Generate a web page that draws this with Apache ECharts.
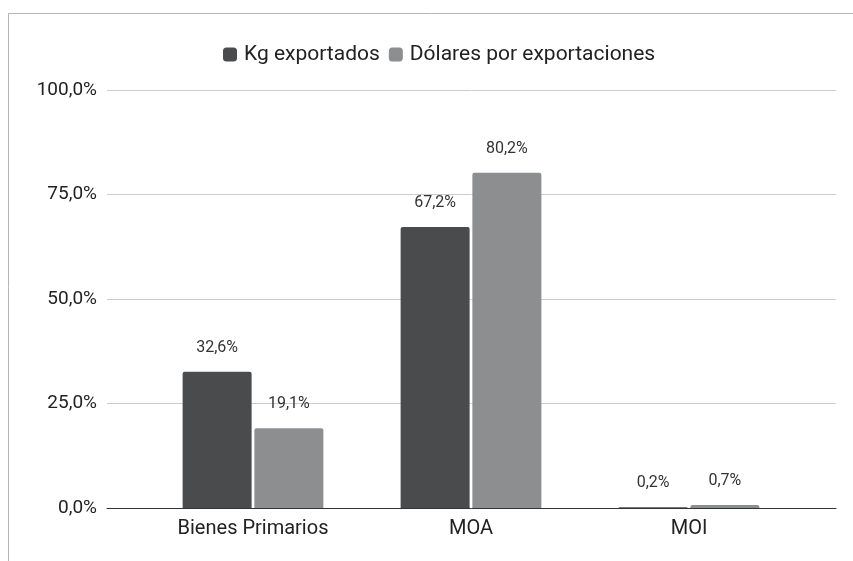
<!DOCTYPE html>
<html>
<head>
<meta charset="utf-8">
<script src="https://cdn.jsdelivr.net/npm/echarts@6/dist/echarts.min.js"></script>
<style>
  html, body { margin: 0; padding: 0; background: #fff; }
  #chart { width: 853px; height: 561px; }
</style>
</head>
<body>
<div id="chart"></div>
<script>
// datos
const categories = ['Bienes Primarios', 'MOA', 'MOI']
const seriesNames = ['Kg exportados', 'Dólares por exportaciones']
const kgValues = [32.6, 67.2, 0.2]
const usdValues = [19.1, 80.2, 0.7]
const yTicks = [0, 25, 50, 75, 100]

const fmt = v => v.toFixed(1).replace('.', ',') + '%'
const FONT = 'Roboto'

const chart = echarts.init(document.getElementById('chart'))

const label = {
  show: true,
  position: 'top',
  distance: 16,
  fontFamily: FONT,
  fontSize: 16,
  color: '#333',
  formatter: p => fmt(p.value)
}

chart.setOption({
  animation: false,
  textStyle: { fontFamily: FONT },
  legend: {
    top: 39,
    left: 218,
    itemWidth: 14,
    itemHeight: 14,
    itemGap: 9,
    icon: 'roundRect',
    textStyle: { fontFamily: FONT, fontSize: 21, color: '#222', padding: [0, 0, 0, 2] },
    data: seriesNames
  },
  graphic: [{
    type: 'rect',
    shape: { x: 8.5, y: 13.5, width: 1000, height: 800 },
    style: { fill: 'none', stroke: '#b5b5b5', lineWidth: 1 },
    silent: true
  }],
  grid: [
    { left: 107, right: 17, top: 90, bottom: 53 },
    { left: 144, right: 55, top: 90, bottom: 53 }
  ],
  xAxis: [
    {
      gridIndex: 0, type: 'value', min: 0, max: 1,
      axisLine: { show: true, lineStyle: { color: '#333', width: 1 } },
      axisTick: { show: false }, axisLabel: { show: false }, splitLine: { show: false }
    },
    {
      gridIndex: 1, type: 'category', data: categories,
      axisLine: { show: false }, axisTick: { show: false },
      axisLabel: { fontFamily: FONT, fontSize: 20, color: '#222', margin: 11 }
    }
  ],
  yAxis: [
    {
      gridIndex: 0, type: 'value', min: 0, max: 100, interval: 25,
      axisLine: { show: false }, axisTick: { show: false },
      axisLabel: {
        fontFamily: FONT, fontSize: 19, color: '#222', margin: 10,
        formatter: v => yTicks.includes(v) ? fmt(v) : ''
      },
      splitLine: { lineStyle: { color: '#cccccc', width: 1 } }
    },
    {
      gridIndex: 1, type: 'value', min: 0, max: 100,
      show: false, splitLine: { show: false }
    }
  ],
  series: [
    {
      name: seriesNames[0], type: 'bar', xAxisIndex: 1, yAxisIndex: 1,
      data: kgValues, barWidth: 69, barGap: '4%',
      itemStyle: { color: '#4a4b4d', borderRadius: [2, 2, 0, 0] },
      label: label
    },
    {
      name: seriesNames[1], type: 'bar', xAxisIndex: 1, yAxisIndex: 1,
      data: usdValues, barWidth: 69,
      itemStyle: { color: '#8d8e90', borderRadius: [2, 2, 0, 0] },
      label: label
    }
  ]
})
</script>
</body>
</html>
